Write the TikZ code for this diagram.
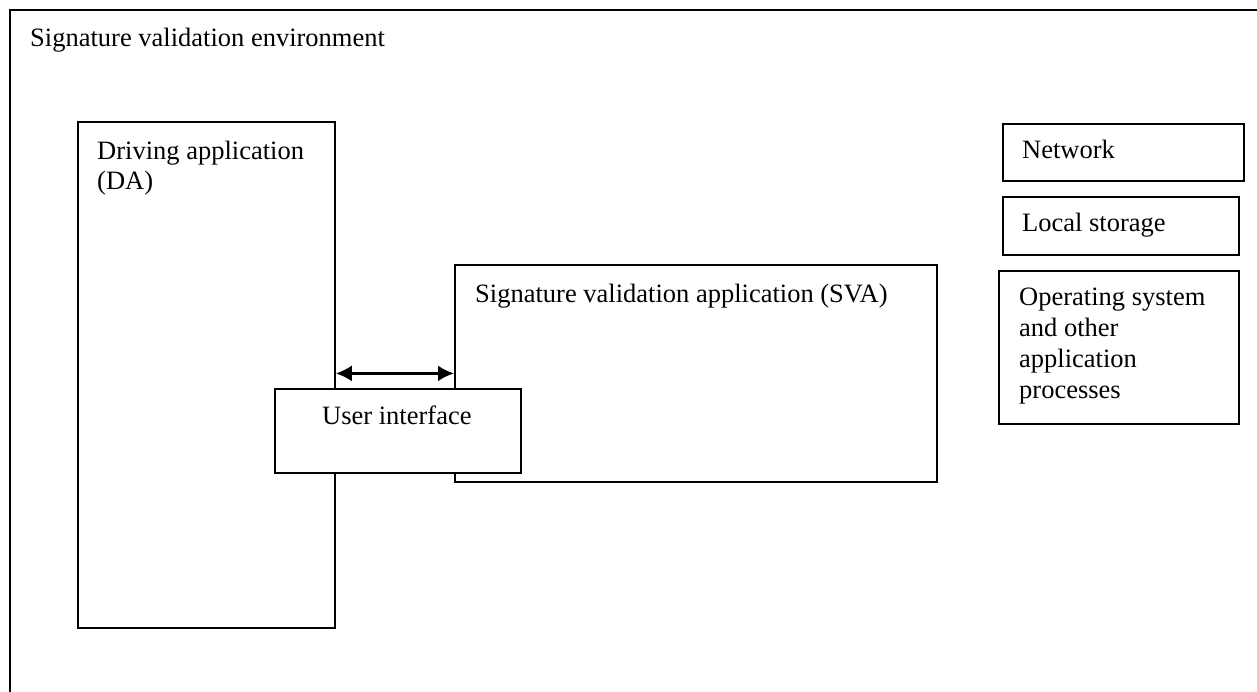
\documentclass[tikz,border=0pt]{standalone}
\usepackage{fontspec}
\setmainfont{Liberation Serif}
\usetikzlibrary{arrows.meta}
\begin{document}
\begin{tikzpicture}[x=1pt,y=-1pt,
  box/.style={draw=black,line width=1.8pt,fill=white,inner sep=0pt,anchor=north west},
  lbl/.style={anchor=base west,inner sep=0pt,font=\fontsize{26.5}{30.8}\selectfont,align=left},
  link/.style={{Latex[length=16pt,width=16pt]}-{Latex[length=16pt,width=16pt]},line width=2.5pt}]
\clip (0,0) rectangle (1257,692);
\node[box,minimum width=1300pt,minimum height=720pt] (env) at (9,9) {};
\node[lbl] (envt) at (30,47) {Signature validation environment};
\node[box,minimum width=257pt,minimum height=506pt] (DA) at (77,121) {};
\node[lbl] (dat) at (97,190) {Driving application\\(DA)};
\node[box,minimum width=482pt,minimum height=217pt] (SVA) at (454,264) {};
\node[lbl] (svat) at (475,303) {Signature validation application (SVA)};
\node[box,minimum width=246pt,minimum height=84pt] (UI) at (274,388) {};
\node[lbl] (uit) at (322,424) {User interface};
\node[box,minimum width=241pt,minimum height=57pt] (NET) at (1002,123) {};
\node[lbl] (nett) at (1022,159) {Network};
\node[box,minimum width=236pt,minimum height=58pt] (LS) at (1002,196) {};
\node[lbl] (lst) at (1022,232) {Local storage};
\node[box,minimum width=240pt,minimum height=153pt] (OS) at (998,270) {};
\node[lbl] (ost) at (1019,398) {Operating system\\and other\\application\\processes};
\draw[link] (DA.east |- SVA.west) -- (SVA.west);
\end{tikzpicture}
\end{document}
